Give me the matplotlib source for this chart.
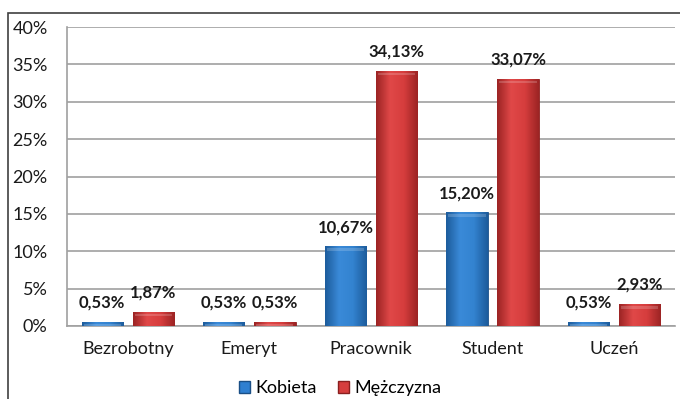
import matplotlib.pyplot as plt
import numpy as np
from matplotlib.colors import LinearSegmentedColormap
from matplotlib.patches import Rectangle
from matplotlib.ticker import FuncFormatter

plt.rcParams['font.family'] = ['Lato', 'DejaVu Sans']

categories = ['Bezrobotny', 'Emeryt', 'Pracownik', 'Student', 'Uczeń']
kobieta = [0.53, 0.53, 10.67, 15.20, 0.53]
mezczyzna = [1.87, 0.53, 34.13, 33.07, 2.93]
series_names = ['Kobieta', 'Mężczyzna']
yticks = [0, 5, 10, 15, 20, 25, 30, 35, 40]

blue_cmap = LinearSegmentedColormap.from_list('b', ['#1d5c9c', '#3a8ad8', '#3383d0', '#1d5c9c'])
red_cmap = LinearSegmentedColormap.from_list('r', ['#9c2424', '#e04848', '#d63d3d', '#9c2424'])


def fmt_pct(v):
    return ('%.2f%%' % v).replace('.', ',')


def shaded_bars(ax, x, heights, width, cmap, edge):
    bars = ax.bar(x, heights, width, color=cmap(0.5), edgecolor=edge, linewidth=0.6, zorder=3)
    grad = np.linspace(0, 1, 64).reshape(1, -1)
    for b in bars:
        x0, w, h = b.get_x(), b.get_width(), b.get_height()
        im = ax.imshow(grad, cmap=cmap, aspect='auto', extent=(x0, x0 + w, 0, h), zorder=3.5,
                       interpolation='bicubic')
        im.set_clip_path(b)
        # light top bevel
        ax.add_patch(Rectangle((x0 + w * 0.05, h - min(h, 0.6)), w * 0.9, min(h, 0.6) * 0.6,
                               color='white', alpha=0.18, lw=0, zorder=3.6))
    return bars


fig = plt.figure(figsize=(6.8, 3.99), dpi=100)
ax = fig.add_axes([0.0985, 0.183, 0.894, 0.749])

x = np.arange(len(categories))
off, w = 0.21, 0.34
shaded_bars(ax, x - off, kobieta, w, blue_cmap, '#1a4f86')
shaded_bars(ax, x + off, mezczyzna, w, red_cmap, '#8a1f1f')

for xi, v in zip(x - off, kobieta):
    ax.annotate(fmt_pct(v), (xi, v), xytext=(0, 8), textcoords='offset points',
                ha='center', va='bottom', fontsize=12, fontweight='bold', color='#1a1a1a', zorder=5)
for xi, v in zip(x + off, mezczyzna):
    ax.annotate(fmt_pct(v), (xi, v), xytext=(0, 8), textcoords='offset points',
                ha='center', va='bottom', fontsize=12, fontweight='bold', color='#1a1a1a', zorder=5)

ax.set_xlim(-0.5, len(categories) - 0.5)
ax.set_ylim(0, 40)
ax.set_yticks(yticks)
ax.yaxis.set_major_formatter(FuncFormatter(lambda v, p: '%d%%' % v))
ax.set_xticks(x)
ax.set_xticklabels(categories)
ax.tick_params(axis='both', length=0, labelsize=13, colors='#1a1a1a')
ax.tick_params(axis='y', pad=14)
ax.tick_params(axis='x', pad=11)
ax.grid(axis='y', color='#a0a0a0', lw=1.2, zorder=0)
ax.set_axisbelow(True)
for s in ['top', 'right']:
    ax.spines[s].set_visible(False)
ax.spines['left'].set_color('#a0a0a0')
ax.spines['bottom'].set_color('#a0a0a0')
ax.spines['left'].set_linewidth(1.2)
ax.spines['bottom'].set_linewidth(1.2)

handles = [Rectangle((0, 0), 1, 1, color='#2f7fd0', ec='#1a4f86'),
           Rectangle((0, 0), 1, 1, color='#d63d3d', ec='#8a1f1f')]
fig.legend(handles, series_names, loc='center', bbox_to_anchor=(0.5, 0.027), ncol=2, frameon=False,
           fontsize=13, handlelength=0.6, handleheight=0.6, handletextpad=0.3, columnspacing=1.2)

# outer frame running off the right and bottom edges
fig.patches.append(Rectangle((8 / 680, -0.1), 1.2, 1 - 13 / 399 + 0.1, transform=fig.transFigure,
                             fill=False, ec='#404040', lw=1.2))

fig.savefig('out.png', dpi=100)
